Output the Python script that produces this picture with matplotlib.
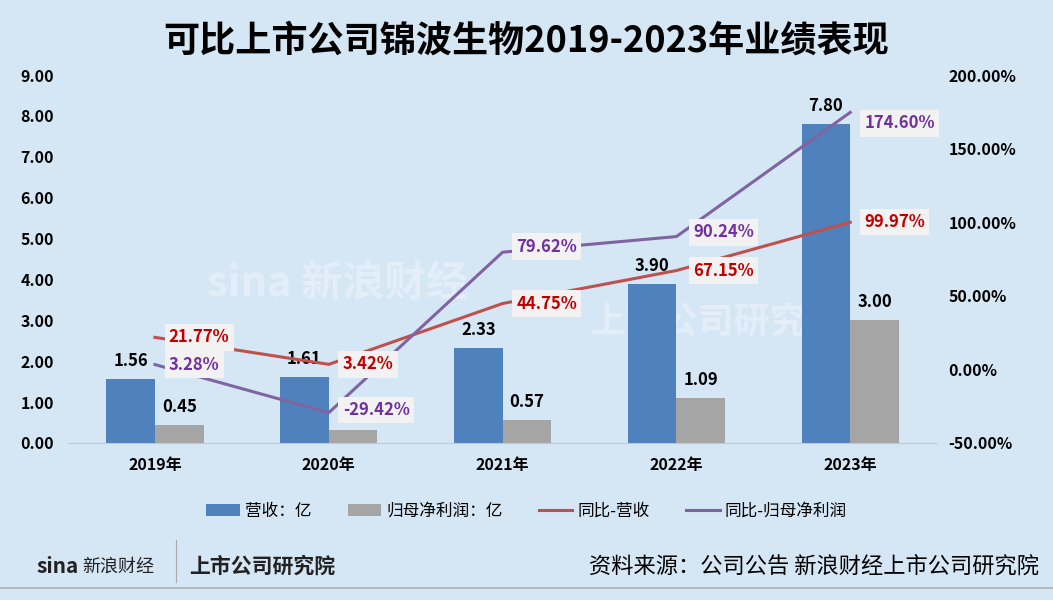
import matplotlib.pyplot as plt
import numpy as np

plt.rcParams['font.family'] = ['Noto Sans CJK SC', 'DejaVu Sans']

# 数据
years = ["2019年", "2020年", "2021年", "2022年", "2023年"]
revenue = [1.56, 1.61, 2.33, 3.90, 7.80]          # 营收：亿
net_profit = [0.45, 0.32, 0.57, 1.09, 3.00]       # 归母净利润：亿
rev_yoy = [21.77, 3.42, 44.75, 67.15, 99.97]      # 同比-营收 (%)
np_yoy = [3.28, -29.42, 79.62, 90.24, 174.60]     # 同比-归母净利润 (%)
np_labels = ["0.45", None, "0.57", "1.09", "3.00"]

bg = "#D5E6F5"
c_blue = "#4F81BD"
c_grey = "#A5A5A5"
c_red = "#C0504D"
c_purple = "#8064A2"

fig = plt.figure(figsize=(10.53, 6.0), dpi=100, facecolor=bg)
ax = fig.add_axes([0.0646, 0.2617, 0.8254, 0.6133])
ax.set_facecolor(bg)
ax2 = ax.twinx()

# 水印 (淡白色，放在图层最底)
ax.text(0.16, 0.40, "sina 新浪财经", transform=ax.transAxes, fontsize=30, fontweight="bold",
        color="white", alpha=0.35, style="italic", zorder=0)
ax.text(0.60, 0.30, "上市公司研究院", transform=ax.transAxes, fontsize=26, fontweight="bold",
        color="white", alpha=0.35, zorder=0)

x = np.arange(len(years))
w = 0.28
b1 = ax.bar(x - w / 2, revenue, w, color=c_blue, label="营收：亿", zorder=2)
b2 = ax.bar(x + w / 2, net_profit, w, color=c_grey, label="归母净利润：亿", zorder=2)

for i, v in enumerate(revenue):
    ax.text(x[i] - w / 2, v + 0.22, f"{v:.2f}", ha="center", va="bottom",
            fontsize=12, fontweight="bold", color="black")
for i, v in enumerate(net_profit):
    if np_labels[i] is None:
        continue
    ax.text(x[i] + w / 2, v + 0.22, np_labels[i], ha="center", va="bottom",
            fontsize=12, fontweight="bold", color="black")

ax.set_xlim(-0.5, len(years) - 0.5)
ax.set_ylim(0, 9)
ax.set_yticks(np.arange(0, 9.01, 1))
ax.set_yticklabels([f"{t:.2f}" for t in np.arange(0, 9.01, 1)])
ax.set_xticks(x)
ax.set_xticklabels(years)

l1, = ax2.plot(x, rev_yoy, color=c_red, lw=2.2, label="同比-营收", zorder=3)
l2, = ax2.plot(x, np_yoy, color=c_purple, lw=2.2, label="同比-归母净利润", zorder=3)
ax2.set_ylim(-50, 200)
ax2.set_yticks(np.arange(-50, 201, 50))
ax2.set_yticklabels([f"{t:.2f}%" for t in np.arange(-50, 201, 50)])

box = dict(boxstyle="square,pad=0.25", fc="#F2F2F2", ec="none")
rev_off = [(10, 0), (10, 0), (10, 0), (12, 0), (10, 0)]
np_off = [(10, 0), (10, 2), (10, 4), (12, 3), (10, -8)]
for i in range(len(years)):
    ax2.annotate(f"{rev_yoy[i]:.2f}%", (x[i], rev_yoy[i]), xytext=rev_off[i],
                 textcoords="offset points", ha="left", va="center",
                 fontsize=12, fontweight="bold", color="#C00000", bbox=box, zorder=5)
    ax2.annotate(f"{np_yoy[i]:.2f}%", (x[i], np_yoy[i]), xytext=np_off[i],
                 textcoords="offset points", ha="left", va="center",
                 fontsize=12, fontweight="bold", color="#7030A0", bbox=box, zorder=5)

for a in (ax, ax2):
    for s in ("top", "left", "right"):
        a.spines[s].set_visible(False)
    a.tick_params(length=0, labelsize=11.5)
    for t in a.get_yticklabels() + a.get_xticklabels():
        t.set_fontweight("bold")
ax.spines["bottom"].set_color("#C8C8C8")
ax2.spines["bottom"].set_visible(False)
ax.tick_params(axis="x", pad=10)
ax.tick_params(axis="y", pad=10)
ax2.tick_params(axis="y", pad=8)

fig.text(0.5, 0.932, "可比上市公司锦波生物2019-2023年业绩表现", ha="center", va="center",
         fontsize=26, fontweight="bold", color="black")

fig.legend(handles=[b1, b2, l1, l2], loc="center", bbox_to_anchor=(0.5, 0.148),
           ncol=4, frameon=False, fontsize=12, handlelength=2.0, columnspacing=2.2,
           handletextpad=0.3)

# 页脚
fig.text(0.035, 0.045, "sina", fontsize=15, fontweight="bold", color="#222222", style="italic")
fig.text(0.078, 0.048, "新浪财经", fontsize=13, color="#222222")
fig.add_artist(plt.Line2D([0.167, 0.167], [0.03, 0.1], color="#AAAAAA", lw=0.8))
fig.text(0.18, 0.045, "上市公司研究院", fontsize=15, fontweight="bold", color="#222222", style="italic")
fig.text(0.987, 0.045, "资料来源：公司公告 新浪财经上市公司研究院", ha="right", fontsize=16, color="black")
fig.add_artist(plt.Line2D([0, 1], [0.02, 0.02], color="#B0B0B0", lw=1.2))

fig.savefig("out.png", dpi=100, facecolor=bg)
